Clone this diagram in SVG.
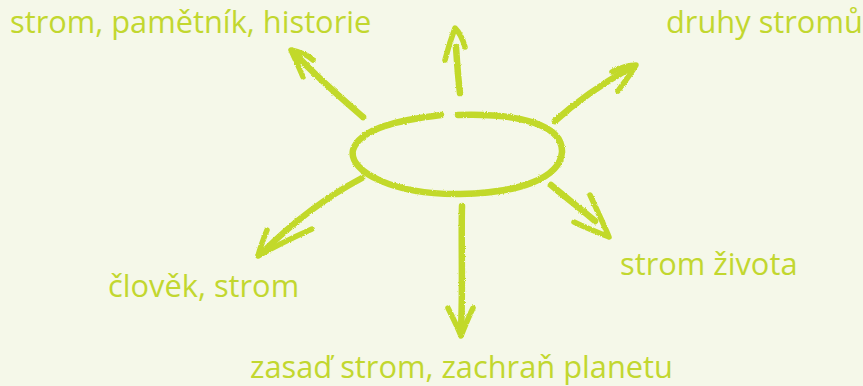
<svg xmlns="http://www.w3.org/2000/svg" width="863" height="386" viewBox="0 0 863 386">
<defs>
<filter id="chalk" x="-10%" y="-10%" width="120%" height="120%">
<feTurbulence type="fractalNoise" baseFrequency="0.9" numOctaves="2" seed="3" result="n"/>
<feDisplacementMap in="SourceGraphic" in2="n" scale="2.5" xChannelSelector="R" yChannelSelector="G"/>
</filter>
</defs>
<style>
.bg{fill:#f5f8e9}
.lbl{font-family:"Open Sans","Noto Sans",sans-serif;font-size:30.8px;fill:#c2d72f}
.chalk{fill:none;stroke:#c2d92b;stroke-width:6.5;stroke-linecap:round;stroke-linejoin:round}
.thin{stroke-width:5.5}
</style>
<rect class="bg" x="0" y="0" width="863" height="386"/>
<g id="center" filter="url(#chalk)">
<path class="chalk" d="M441,115 C400,120 360,128 353,150 C348,172 395,195 460,194 C520,193 560,178 562,152 C563,125 520,113 458,115"/>
</g>
<g id="connectors" filter="url(#chalk)">
<g id="c1"><path class="chalk" d="M363,117 C340,97 320,80 297,56"/><path class="chalk thin" d="M303,77 C298,65 294,57 291,50 C300,52 308,55 313,60"/></g>
<g id="c2"><path class="chalk" d="M460,93 C458,78 457,62 456,47"/><path class="chalk thin" d="M445,60 C448,48 452,36 455,28 C460,33 463,40 465,47"/></g>
<g id="c3"><path class="chalk" d="M555,121 C575,103 600,85 630,68"/><path class="chalk thin" d="M612,72 C620,68 630,65 636,65 C630,75 623,84 618,91"/></g>
<g id="c4"><path class="chalk" d="M551,185 C565,197 580,208 595,221"/><path class="chalk thin" d="M590,195 C597,210 604,225 609,237 C597,232 584,227 574,222"/></g>
<g id="c5"><path class="chalk" d="M462,206 C461,240 463,290 461,330"/><path class="chalk thin" d="M448,308 C453,318 458,328 461,336 C465,326 469,316 473,308"/></g>
<g id="c6"><path class="chalk" d="M362,178 C330,195 295,220 262,253"/><path class="chalk thin" d="M267,230 C263,240 260,248 258,256 C272,248 292,238 312,229"/></g>
</g>
<g id="n1"><text class="lbl" x="10" y="33">strom, pamětník, historie</text></g>
<g id="n2"><text class="lbl" x="666" y="33">druhy stromů</text></g>
<g id="n3"><text class="lbl" x="620" y="275">strom života</text></g>
<g id="n4"><text class="lbl" x="108" y="297">člověk, strom</text></g>
<g id="n5"><text class="lbl" x="250" y="378">zasaď strom, zachraň planetu</text></g>
</svg>
